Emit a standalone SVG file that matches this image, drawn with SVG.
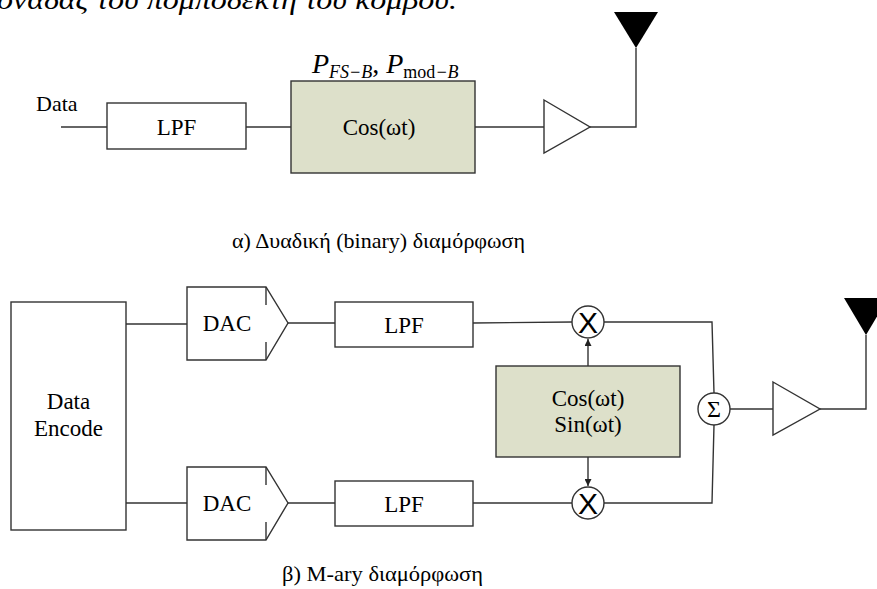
<svg xmlns="http://www.w3.org/2000/svg" width="877" height="589" viewBox="0 0 877 589">
<defs>
<style>
.ln{fill:none;stroke:#333;stroke-width:1.4}
.bx{fill:#fff;stroke:#333;stroke-width:1.4}
.gr{fill:#dde0ca;stroke:#333;stroke-width:1.4}
.t{font-family:"Liberation Serif","Times New Roman",serif;fill:#000}
.c{text-anchor:middle}
.n{font-size:23px}
</style>
<marker id="ah" viewBox="0 0 10 10" refX="10" refY="5" markerWidth="5" markerHeight="5" orient="auto" markerUnits="strokeWidth">
<path d="M0,0 L10,5 L0,10 z" fill="#222"/>
</marker>
</defs>
<rect width="877" height="589" fill="#fff"/>
<text class="t" x="-3" y="9" font-size="27" font-style="italic" textLength="460" lengthAdjust="spacingAndGlyphs">ονάδας του πομποδέκτη του κόμβου.</text>

<g id="connectors">
<path class="ln" d="M61,127 H107"/>
<path class="ln" d="M246,127 H291"/>
<path class="ln" d="M475,127 H544"/>
<path class="ln" d="M590,127 H636 V48"/>
<path class="ln" d="M126,324 H187"/>
<path class="ln" d="M126,503 H187"/>
<path class="ln" d="M288,323 H335"/>
<path class="ln" d="M288,503 H335"/>
<path class="ln" d="M473,323 L572,322"/>
<path class="ln" d="M473,503 H572"/>
<path class="ln" d="M604,322 H712 L714,393"/>
<path class="ln" d="M604,503 H712 L714,425"/>
<path class="ln" d="M588,366 V339" marker-end="url(#ah)"/>
<path class="ln" d="M588,457 V486" marker-end="url(#ah)"/>
<path class="ln" d="M730,409 H773"/>
<path class="ln" d="M820,409 H866 V335"/>
</g>

<g id="data-label"><text class="t" x="36" y="111" font-size="22">Data</text></g>
<g id="lpf-a"><rect class="bx" x="107" y="103" width="139" height="46"/><text class="t c n" x="176.5" y="135">LPF</text></g>
<g id="cos-a"><rect class="gr" x="291" y="81" width="184" height="92"/><text class="t c n" x="379" y="135">Cos(ωt)</text></g>
<g id="pfs-label"><text class="t" x="312" y="73" font-size="28" font-style="italic">P<tspan font-size="18" dy="5">FS−B</tspan><tspan dy="-5" font-style="normal">, </tspan>P<tspan font-size="18" dy="5" font-style="normal">mod</tspan><tspan font-size="18">−B</tspan></text></g>
<g id="amp-a"><path class="bx" d="M544,100 L590,127 L544,153 Z"/></g>
<g id="ant-a"><path d="M614,12 H658 L636,48 Z" fill="#000"/></g>
<g id="caption-a"><text class="t" x="232" y="248" font-size="22" textLength="293" lengthAdjust="spacingAndGlyphs">α) Δυαδική (binary) διαμόρφωση</text></g>

<g id="data-encode"><rect class="bx" x="11" y="302" width="115" height="228"/><text class="t c n" x="68.5" y="409">Data</text><text class="t c n" x="68.5" y="436">Encode</text></g>
<g id="dac1"><path class="bx" d="M266,287 H187 V360 H266 L288,323 Z"/><path class="ln" d="M266,287 V305 M266,342 V360"/><text class="t c n" x="227" y="331">DAC</text></g>
<g id="dac2"><path class="bx" d="M266,467 H187 V540 H266 L288,503 Z"/><path class="ln" d="M266,467 V485 M266,522 V540"/><text class="t c n" x="227" y="511">DAC</text></g>
<g id="lpf1"><rect class="bx" x="335" y="302" width="138" height="45"/><text class="t c n" x="404" y="333">LPF</text></g>
<g id="lpf2"><rect class="bx" x="335" y="481" width="138" height="45"/><text class="t c n" x="404" y="512">LPF</text></g>
<g id="mix1"><circle class="bx" cx="588" cy="322" r="16"/><text x="588" y="333" font-family="Liberation Sans,Arial,sans-serif" font-size="30" text-anchor="middle">X</text></g>
<g id="mix2"><circle class="bx" cx="588" cy="503" r="16"/><text x="588" y="514" font-family="Liberation Sans,Arial,sans-serif" font-size="30" text-anchor="middle">X</text></g>
<g id="osc"><rect class="gr" x="496" y="366" width="184" height="91"/><text class="t c n" x="588" y="406">Cos(ωt)</text><text class="t c n" x="588" y="432">Sin(ωt)</text></g>
<g id="sum"><circle class="bx" cx="714" cy="409" r="16"/><text class="t c" x="714" y="417" font-size="24">Σ</text></g>
<g id="amp-b"><path class="bx" d="M773,382 L820,409 L773,435 Z"/></g>
<g id="ant-b"><path d="M844,298 H888 L866,335 Z" fill="#000"/></g>
<g id="caption-b"><text class="t" x="282" y="581" font-size="22" textLength="201" lengthAdjust="spacingAndGlyphs">β) M-ary διαμόρφωση</text></g>
</svg>
